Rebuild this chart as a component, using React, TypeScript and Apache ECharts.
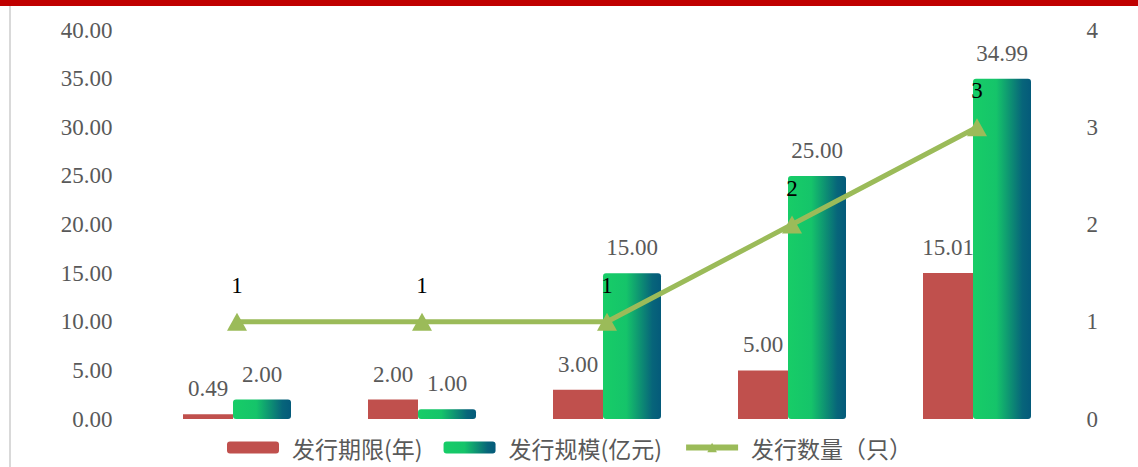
import React, { useEffect, useRef } from "react";
import * as echarts from "echarts";

const categories = ["A", "B", "C", "D", "E"];
const termYears = [0.49, 2.0, 3.0, 5.0, 15.01];
const scaleBillion = [2.0, 1.0, 15.0, 25.0, 34.99];
const issueCount = [1, 1, 1, 2, 3];
const seriesNames = ["发行期限(年)", "发行规模(亿元)", "发行数量（只）"];

const serif = "'Liberation Serif', 'DejaVu Serif', serif";
const cjk = "'Noto Sans CJK SC', 'Noto Sans', sans-serif";

export default function App() {
  const ref = useRef<HTMLDivElement>(null);
  useEffect(() => {
    document.body.style.margin = "0";
    const chart = echarts.init(ref.current!, null, { renderer: "svg" });
    const green = new echarts.graphic.LinearGradient(0, 0, 1, 0, [
      { offset: 0, color: "#17CD67" },
      { offset: 0.4, color: "#15C46A" },
      { offset: 0.85, color: "#07657A" },
      { offset: 1, color: "#045A7A" },
    ]);
    chart.setOption({
      animation: false,
      backgroundColor: "#ffffff",
      graphic: [
        { type: "rect", shape: { x: 0, y: 0, width: 1138, height: 6 }, style: { fill: "#C00000" } },
        { type: "rect", shape: { x: 9, y: 6, width: 2, height: 461 }, style: { fill: "#D9D9D9" } },
      ],
      grid: { left: 144.5, right: 68.5, top: 30, bottom: 48 },
      legend: {
        left: 227,
        top: 436,
        padding: 0,
        itemWidth: 52,
        itemHeight: 12,
        itemGap: 21,
        textStyle: { fontFamily: cjk, fontSize: 23, color: "#595959", padding: [0, 0, 0, 8] },
        data: [
          { name: seriesNames[0], itemStyle: { color: "#C0504D" } },
          { name: seriesNames[1], itemStyle: { color: green, borderRadius: 3 } },
          { name: seriesNames[2], lineStyle: { width: 6, color: "#9BBB59" }, itemStyle: { color: "#9BBB59" } },
        ],
      },
      xAxis: {
        type: "category",
        data: categories,
        axisLine: { show: false },
        axisTick: { show: false },
        axisLabel: { show: false },
      },
      yAxis: [
        {
          type: "value",
          min: 0,
          max: 40,
          interval: 5,
          splitLine: { show: false },
          axisLine: { show: false },
          axisTick: { show: false },
          axisLabel: {
            margin: 32,
            fontFamily: serif,
            fontSize: 23,
            color: "#595959",
            formatter: (v: number) => v.toFixed(2),
          },
        },
        {
          type: "value",
          min: 0,
          max: 4,
          interval: 1,
          splitLine: { show: false },
          axisLine: { show: false },
          axisTick: { show: false },
          axisLabel: { margin: 17, fontFamily: serif, fontSize: 23, color: "#595959" },
        },
      ],
      series: [
        {
          name: seriesNames[0],
          type: "bar",
          data: termYears,
          barWidth: 50,
          barGap: "0%",
          itemStyle: { color: "#C0504D" },
          label: {
            show: true,
            position: "top",
            distance: 14,
            fontFamily: serif,
            fontSize: 23,
            color: "#595959",
            formatter: (p: any) => Number(p.value).toFixed(2),
          },
        },
        {
          name: seriesNames[1],
          type: "bar",
          data: scaleBillion,
          barWidth: 58,
          barGap: "0%",
          itemStyle: { color: green, borderRadius: 3 },
          label: {
            show: true,
            position: "top",
            distance: 14,
            fontFamily: serif,
            fontSize: 23,
            color: "#595959",
            formatter: (p: any) => Number(p.value).toFixed(2),
          },
        },
        {
          name: seriesNames[2],
          type: "line",
          yAxisIndex: 1,
          data: issueCount,
          symbol: "triangle",
          symbolSize: [20, 18],
          lineStyle: { color: "#9BBB59", width: 5 },
          itemStyle: { color: "#9BBB59" },
          label: {
            show: true,
            position: "top",
            distance: 16,
            fontFamily: serif,
            fontSize: 23,
            color: "#000000",
          },
          z: 5,
        },
      ],
    });
    return () => chart.dispose();
  }, []);
  return <div ref={ref} style={{ width: 1138, height: 467 }} />;
}
